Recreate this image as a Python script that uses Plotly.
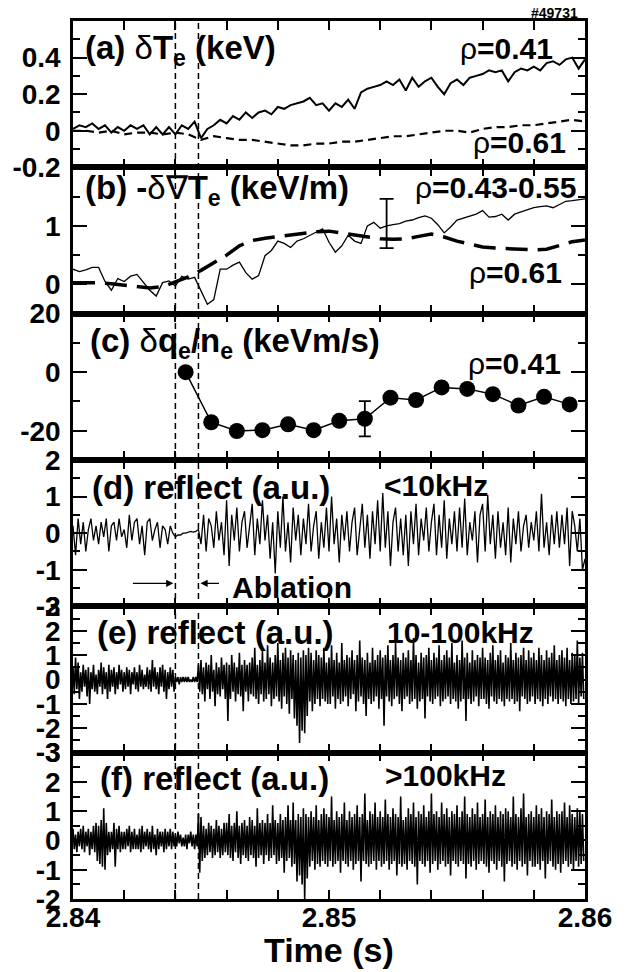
import numpy as np
import plotly.graph_objects as go
from plotly.subplots import make_subplots

# ---------------- data ----------------
T_START = 2.840
ABLATION = [2.8440, 2.8449]

# (a) delta Te (keV), rho=0.41, sampled every 0.25 ms
DT_A = 0.00025
te_041 = [0.01, 0.03, 0.02, 0.04, 0.01, 0.03, -0.01, 0.02, 0.00, 0.03,
          0.01, 0.03, -0.02, 0.02, -0.02, 0.02, -0.02, 0.03, 0.01, 0.05,
          -0.04, 0.01, 0.03, 0.06, 0.04, 0.08, 0.06, 0.10, 0.07, 0.10,
          0.11, 0.09, 0.13, 0.12, 0.14, 0.15, 0.16, 0.18, 0.14, 0.15,
          0.11, 0.15, 0.13, 0.17, 0.12, 0.21, 0.23, 0.24, 0.25, 0.27,
          0.25, 0.28, 0.22, 0.29, 0.24, 0.27, 0.29, 0.24, 0.20, 0.26,
          0.28, 0.25, 0.29, 0.30, 0.31, 0.33, 0.32, 0.33, 0.27, 0.32,
          0.34, 0.33, 0.35, 0.33, 0.37, 0.38, 0.36, 0.39, 0.40, 0.34,
          0.39]
# (a) rho=0.61, every 0.5 ms
DT_A2 = 0.0005
te_061 = [0.00, 0.00, -0.01, 0.00, -0.02, -0.01, -0.01, -0.02, -0.01, -0.02,
          -0.05, -0.03, -0.04, -0.05, -0.05, -0.06, -0.07, -0.08, -0.08, -0.07,
          -0.07, -0.06, -0.06, -0.05, -0.04, -0.03, -0.03, -0.02, -0.01, 0.00,
          0.00, -0.01, 0.01, 0.02, 0.02, 0.03, 0.03, 0.04, 0.05, 0.06,
          0.05]

# (b) -delta grad Te (keV/m)
grad_043_055 = [0.26, 0.22, 0.25, 0.29, 0.29, 0.05, -0.10, 0.10, 0.05, 0.14,
                0.17, 0.03, -0.10, -0.20, 0.03, 0.06, -0.03, 0.14, 0.09, 0.12,
                -0.10, -0.34, -0.26, 0.26, 0.26, 0.33, 0.38, 0.20, 0.09, 0.15,
                0.49, 0.58, 0.74, 0.70, 0.63, 0.74, 0.78, 0.84, 0.90, 0.95,
                0.72, 0.55, 0.66, 0.84, 0.74, 0.70, 1.00, 1.06, 0.96, 1.00,
                1.02, 1.04, 1.08, 1.10, 1.14, 1.17, 1.13, 1.02, 0.88, 0.98,
                1.10, 1.13, 1.17, 1.20, 1.26, 1.15, 1.16, 1.20, 1.10, 1.20,
                1.24, 1.28, 1.31, 1.33, 1.34, 1.31, 1.36, 1.42, 1.43, 1.45,
                1.46]
grad_061 = [0.03, 0.03, 0.03, 0.01, -0.01, -0.04, -0.06, -0.04, 0.04, 0.13,
            0.24, 0.37, 0.50, 0.66, 0.75, 0.79, 0.82, 0.84, 0.87, 0.90,
            0.91, 0.88, 0.84, 0.81, 0.78, 0.77, 0.78, 0.82, 0.86, 0.81,
            0.74, 0.69, 0.64, 0.62, 0.61, 0.60, 0.59, 0.60, 0.66, 0.73,
            0.76]
grad_err_t = [2.85225]
grad_err_y = [1.04]
grad_err = [0.42]

# (c) delta qe / ne (keV m/s), rho=0.41
qe_t = [2.8444, 2.8454, 2.8464, 2.8474, 2.8484, 2.8494, 2.8504, 2.8514,
        2.8524, 2.8534, 2.8544, 2.8554, 2.8564, 2.8574, 2.8584, 2.8594]
qe = [0.0, -17.1, -20.1, -19.8, -17.8, -19.8, -16.6, -15.9,
      -8.7, -9.5, -5.2, -5.7, -7.5, -11.4, -8.4, -11.0]
qe_err_t = [2.8514]
qe_err_y = [-15.9]
qe_err = [6.0]

# (d) reflectometer < 10 kHz, every 0.1 ms
DT_D = 0.0001
refl_low = [0.2, -0.6, 0.4, -0.3, 0.3, -0.5, 0.1, 0.4, -0.2, 0.2,
            -0.3, 0.3, -0.1, 0.4, -0.5, 0.2, 0.3, -0.2, 0.4, -0.1,
            0.1, -0.4, 0.5, -0.2, 0.3, 0.4, -0.3, 0.2, -0.6, 0.3,
            0.4, -0.2, 0.1, 0.3, -0.4, 0.2, 0.1, -0.3, 0.2, 0.0,
            -0.1, -0.05, -0.05, 0.0, 0.0, 0.02, 0.05, 0.03, 0.05, 0.1,
            -0.3, 0.5, -0.5, 0.4, 0.2, -0.4, 0.6, -0.2, 0.3, -0.6,
            0.9, -0.9, 0.5, -0.2, 0.7, -0.5, 0.3, 0.6, -0.4, 0.2,
            0.8, -0.6, 0.4, -0.3, 0.9, -0.2, 0.5, -0.7, 0.3, -1.1,
            0.6, -0.4, 1.0, -0.5, 0.3, -0.8, 0.7, -0.2, 0.5, -0.6,
            0.4, -0.3, 0.8, -0.5, 0.2, 0.6, -0.7, 0.3, -0.4, 0.7,
            -0.5, 1.0, -0.3, 0.4, -0.8, 0.5, -0.2, 0.6, -0.5, 0.3,
            0.7, -0.6, 0.2, 0.8, -0.4, 0.5, -0.7, 0.6, -0.3, 0.9,
            -0.5, 1.1, -0.4, 0.6, -0.9, 0.3, 0.7, -0.5, 0.4, -0.6,
            0.5, -0.9, 0.6, -0.3, 0.8, -0.6, 0.4, -0.2, 0.7, -0.5,
            0.3, 0.8, -0.6, 0.5, -0.4, 0.9, -0.7, 0.4, -0.3, 0.6,
            -0.5, 0.7, -0.4, 0.95, -0.6, 0.3, -0.2, 0.6, -0.8, 0.5,
            0.8, -0.5, 1.05, -0.3, 0.5, -0.7, 0.6, -0.4, 0.3, -0.6,
            0.7, -0.8, 0.4, -0.3, 0.6, -0.5, 0.2, 0.5, -0.4, 0.3,
            -0.2, 0.6, -0.5, 1.08, -0.4, 0.3, -0.6, 0.5, -0.3, 0.6,
            -0.4, 0.5, -0.3, 0.7, -0.9, 0.6, 0.2, -0.5, 0.4, -1.0,
            -0.7]

# (e) reflectometer 10-100 kHz, every 0.05 ms
DT_E = 0.00005
refl_mid = [
    0.5, -0.6, 0.9, -0.4, 0.7, -0.8, 0.3, -0.5, 0.6, -0.3, 0.4, -0.7, 0.5, -1.0, 0.3, -0.4, 0.6, -0.5, 0.2, -0.6,
    0.4, -0.3, 0.7, -0.6, 0.5, -0.4, 0.3, -0.8, 0.6, -0.5, 0.4, -0.3, 0.5, -0.6, 0.3, -0.4, 0.6, -0.2, 0.4, -0.5,
    0.3, -0.4, 0.5, -0.3, 0.4, -0.6, 0.3, -0.2, 0.5, -0.4, 0.3, -0.5, 0.6, -0.3, 0.4, -0.4, 0.2, -0.3, 0.5, -0.4,
    0.4, -0.5, 0.8, -0.3, 0.5, -0.4, 0.3, -0.6, 0.5, -0.3, 0.6, -0.5, 0.4, -0.8, 0.3, -0.4, 0.5, -0.3, 0.4, -0.5,
    0.1, -0.1, 0.1, -0.2, 0.1, -0.1, 0.1, -0.1, 0.1, -0.1, 0.1, -0.1, 0.0, -0.1, 0.1, -0.1, 0.1, -0.1, 0.6, -0.5,
    0.8, -0.6, 0.5, -0.9, 0.7, -0.4, 0.6, -0.8, 1.0, -0.5, 0.4, -1.1, 0.7, -0.6, 0.5, -0.7, 0.9, -0.4, 0.6, -0.8,
    0.7, -1.7, 0.6, -0.8, 1.0, -0.5, 0.7, -0.9, 0.5, -0.6, 1.1, -0.7, 0.6, -1.3, 0.8, -0.5, 0.6, -0.9, 0.7, -0.6,
    0.9, -0.7, 1.3, -0.8, 0.6, -1.0, 0.8, -0.6, 1.2, -0.9, 0.7, -0.8, 1.4, -0.6, 0.9, -1.1, 0.7, -0.8, 1.0, -0.7,
    1.5, -0.9, 0.8, -1.2, 1.1, -0.7, 1.3, -1.0, 0.9, -1.4, 1.2, -0.8, 1.0, -1.6, 0.8, -1.9, 1.1, -2.6, 0.9, -2.1,
    1.2, -2.2, 1.0, -1.5, 1.3, -0.9, 1.1, -1.3, 0.8, -1.0, 1.2, -0.8, 1.0, -1.1, 0.9, -0.8, 1.3, -0.9, 0.7, -1.0,
    0.9, -1.0, 1.4, -0.7, 0.8, -1.2, 1.1, -0.8, 0.7, -1.0, 1.5, -0.9, 0.8, -0.7, 1.0, -1.1, 0.9, -0.8, 1.2, -0.6,
    0.8, -1.3, 1.0, -0.9, 1.6, -0.7, 0.9, -1.0, 0.8, -1.5, 1.1, -0.8, 0.7, -1.0, 1.3, -0.9, 0.8, -0.7, 1.0, -1.2,
    1.2, -0.8, 0.9, -1.9, 1.0, -0.7, 1.4, -0.9, 0.8, -1.1, 1.0, -0.8, 1.5, -0.7, 0.9, -1.0, 0.8, -1.3, 1.1, -0.8,
    0.9, -0.7, 1.2, -1.0, 0.8, -0.9, 1.7, -0.8, 1.0, -1.2, 0.7, -0.9, 1.1, -0.8, 0.9, -1.6, 1.0, -0.7, 1.3, -0.9,
    0.8, -1.0, 1.1, -0.8, 0.9, -0.7, 1.4, -1.1, 0.8, -0.9, 1.0, -0.8, 1.2, -0.7, 0.9, -1.0, 1.5, -0.8, 0.7, -0.9,
    1.0, -1.2, 0.8, -0.9, 1.6, -0.8, 0.9, -1.7, 1.1, -0.8, 0.7, -1.0, 1.2, -0.9, 0.8, -0.7, 1.0, -1.1, 0.9, -0.8,
    1.3, -0.8, 0.9, -1.0, 0.8, -1.2, 1.1, -0.7, 1.4, -0.9, 0.8, -1.0, 1.0, -0.8, 1.2, -0.9, 0.7, -1.1, 1.0, -0.8,
    0.9, -0.9, 1.5, -0.8, 0.8, -1.0, 1.1, -0.9, 0.9, -1.3, 1.0, -0.7, 1.3, -0.8, 0.8, -1.0, 1.2, -0.9, 0.9, -0.7,
    1.1, -1.0, 0.8, -0.8, 1.3, -0.9, 1.0, -1.1, 0.8, -0.8, 1.2, -1.0, 0.9, -0.7, 1.1, -0.9, 1.4, -0.8, 0.8, -1.0,
    1.0, -0.8, 1.2, -0.9, 0.9, -1.1, 1.3, -0.8, 0.8, -1.0, 1.1, -0.9, 1.0, -0.8, 1.6, -1.0, 0.9, -0.7, 1.1, -0.8]

# (f) reflectometer > 100 kHz, every 0.05 ms
refl_high = [
    0.4, -0.3, 0.2, -0.4, 0.3, -0.2, 0.4, -0.3, 0.5, -0.4, 0.3, -0.2, 0.4, -0.5, 0.3, -0.3, 0.5, -0.4, 0.6, -0.7,
    0.5, -0.8, 0.7, -0.9, 1.1, -1.0, 0.6, -0.5, 0.3, -0.4, 0.3, -0.3, 0.6, -0.9, 0.4, -0.3, 0.5, -0.4, 0.3, -0.3,
    0.3, -0.3, 0.4, -0.2, 0.5, -0.4, 0.3, -0.3, 0.4, -0.3, 0.2, -0.3, 0.4, -0.4, 0.5, -0.3, 0.3, -0.2, 0.4, -0.3,
    0.3, -0.4, 0.5, -0.3, 0.2, -0.5, 0.4, -0.3, 0.3, -0.2, 0.3, -0.4, 0.4, -0.3, 0.3, -0.2, 0.4, -0.3, 0.3, -0.2,
    0.2, -0.2, 0.3, -0.1, 0.2, -0.2, 0.1, -0.2, 0.2, -0.3, 0.2, -0.1, 0.3, -0.2, 0.2, -0.3, 0.2, -0.2, 0.9, -1.1,
    0.8, -0.7, 0.5, -0.6, 0.4, -0.5, 0.6, -0.4, 0.5, -0.6, 0.4, -0.5, 0.7, -0.4, 0.5, -0.6, 0.4, -0.5, 0.6, -0.4,
    0.6, -0.5, 0.9, -0.6, 0.5, -0.7, 0.6, -0.4, 1.0, -0.6, 0.5, -0.8, 0.6, -0.5, 0.7, -0.6, 0.5, -0.7, 0.8, -0.5,
    0.7, -0.6, 0.5, -0.9, 1.1, -0.6, 0.6, -0.5, 0.7, -0.8, 0.6, -0.5, 0.9, -0.7, 0.6, -0.6, 1.2, -0.5, 0.7, -0.8,
    0.6, -0.7, 0.9, -0.6, 0.7, -1.1, 0.8, -0.7, 1.2, -0.6, 0.7, -0.9, 1.3, -0.8, 0.7, -1.4, 0.9, -1.2, 0.8, -1.5,
    1.1, -2.0, 0.9, -1.3, 0.8, -0.9, 1.0, -0.7, 0.8, -1.0, 1.2, -0.8, 0.7, -0.9, 0.9, -0.7, 1.1, -0.8, 0.9, -0.9,
    0.8, -0.7, 1.5, -0.9, 0.7, -0.8, 1.0, -0.7, 0.8, -1.1, 0.9, -0.7, 1.3, -0.8, 0.7, -0.9, 1.0, -0.7, 0.8, -1.0,
    0.9, -0.8, 1.2, -0.7, 0.8, -1.4, 0.9, -0.7, 1.6, -0.8, 0.7, -0.9, 1.0, -0.8, 0.9, -0.7, 1.3, -1.0, 0.8, -0.7,
    1.0, -0.9, 0.8, -0.8, 1.4, -0.7, 0.9, -1.0, 0.8, -0.8, 1.1, -0.7, 0.9, -1.2, 0.8, -0.8, 1.5, -0.9, 0.7, -0.8,
    0.8, -1.0, 1.1, -0.7, 0.9, -0.8, 1.3, -0.9, 0.8, -1.5, 1.0, -0.7, 0.9, -0.8, 1.2, -0.9, 0.8, -0.7, 1.0, -1.1,
    1.6, -0.8, 0.9, -0.7, 1.0, -1.0, 0.8, -0.8, 1.3, -0.7, 0.9, -0.9, 1.1, -0.8, 0.8, -1.2, 1.0, -0.7, 0.9, -0.8,
    1.2, -0.9, 0.8, -0.7, 1.0, -0.8, 1.5, -1.3, 0.9, -0.8, 0.8, -0.9, 1.1, -0.7, 0.9, -1.0, 1.3, -0.8, 0.8, -0.7,
    0.9, -0.8, 1.4, -0.9, 0.8, -1.1, 1.0, -0.7, 0.9, -0.8, 1.2, -1.0, 0.8, -0.7, 1.0, -0.9, 0.9, -1.4, 1.1, -0.8,
    1.0, -0.7, 0.8, -0.9, 1.5, -0.8, 0.9, -1.0, 0.8, -0.7, 1.1, -0.9, 1.6, -0.8, 0.8, -1.2, 0.9, -0.7, 1.0, -0.9,
    0.8, -0.9, 1.2, -0.8, 0.9, -1.0, 1.1, -0.7, 0.8, -1.3, 1.0, -0.8, 0.9, -0.7, 1.4, -0.9, 0.8, -1.0, 1.0, -0.8,
    0.9, -1.1, 1.0, -0.8, 1.3, -0.7, 0.8, -0.9, 1.2, -0.8, 0.9, -1.0, 0.8, -0.7, 1.1, -0.9, 1.0, -0.8, 0.9, -0.7]

X_MAJOR = [2.84, 2.85, 2.86]
X_MAJOR_TEXT = ["2.84", "2.85", "2.86"]
X_MINOR = [2.842, 2.844, 2.846, 2.848, 2.852, 2.854, 2.856, 2.858]


def tbase(n, dt):
    return [T_START + i * dt for i in range(n)]


# ---------------- figure ----------------
FONT = "Liberation Sans, Arial, sans-serif"
# page-pixel frame of the plotting area (the html body adds an 8 px offset)
OFF = 8
L, R, T, B = 73, 585, 21, 899
W, H = 630 - OFF, 972 - OFF

fig = make_subplots(rows=6, cols=1, shared_xaxes=True, vertical_spacing=0)

fig.add_trace(go.Scatter(x=tbase(len(te_041), DT_A), y=te_041, mode="lines",
                         line=dict(color="black", width=2)), row=1, col=1)
fig.add_trace(go.Scatter(x=tbase(len(te_061), DT_A2), y=te_061, mode="lines",
                         line=dict(color="black", width=2.2, dash="8px,5px")), row=1, col=1)

fig.add_trace(go.Scatter(x=tbase(len(grad_043_055), DT_A), y=grad_043_055, mode="lines",
                         line=dict(color="black", width=1.3)), row=2, col=1)
fig.add_trace(go.Scatter(x=tbase(len(grad_061), DT_A2), y=grad_061, mode="lines",
                         line=dict(color="black", width=3.5, dash="22px,10px")), row=2, col=1)
fig.add_trace(go.Scatter(x=grad_err_t, y=grad_err_y, mode="markers",
                         marker=dict(size=1, color="rgba(0,0,0,0)"),
                         error_y=dict(type="data", array=grad_err, color="black",
                                      thickness=1.8, width=7)), row=2, col=1)

fig.add_trace(go.Scatter(x=qe_t, y=qe, mode="lines+markers",
                         line=dict(color="black", width=1.5),
                         marker=dict(size=16, color="black")), row=3, col=1)
fig.add_trace(go.Scatter(x=qe_err_t, y=qe_err_y, mode="markers",
                         marker=dict(size=1, color="rgba(0,0,0,0)"),
                         error_y=dict(type="data", array=qe_err, color="black",
                                      thickness=1.8, width=6)), row=3, col=1)

fig.add_trace(go.Scatter(x=tbase(len(refl_low), DT_D), y=refl_low, mode="lines",
                         line=dict(color="black", width=1.3)), row=4, col=1)
fig.add_trace(go.Scatter(x=tbase(len(refl_mid), DT_E), y=refl_mid, mode="lines",
                         line=dict(color="black", width=1.6)), row=5, col=1)
fig.add_trace(go.Scatter(x=tbase(len(refl_high), DT_E), y=refl_high, mode="lines",
                         line=dict(color="black", width=1.6)), row=6, col=1)

tickfont = dict(family=FONT, size=28, color="black", weight="bold")

fig.update_xaxes(range=[2.84, 2.86], showline=True, linecolor="black", linewidth=2.5,
                 mirror="ticks", ticks="inside", ticklen=9, tickwidth=2, tickcolor="black",
                 tickmode="array", tickvals=X_MAJOR, ticktext=X_MAJOR_TEXT,
                 minor=dict(tickvals=X_MINOR, ticks="inside", ticklen=9, tickwidth=2,
                            tickcolor="black"),
                 showgrid=False, zeroline=False, tickfont=tickfont, automargin=False,
                 ticklabelstandoff=-8)

ycfg = [
    ([-0.2, 0.6], [-0.2, 0, 0.2, 0.4], ["-0.2", "0", "0.2", "0.4"], [-0.1, 0.1, 0.3, 0.5]),
    ([-0.5, 2.0], [0, 1], ["0", "1"], [0.5, 1.5]),
    ([-30, 20], [-20, 0, 20], ["-20", "0", "20"], [-10, 10]),
    ([-2, 2], [-2, -1, 0, 1, 2], ["-2", "-1", "0", "1", "2"], [-1.5, -0.5, 0.5, 1.5]),
    ([-3, 3], [-3, -2, -1, 0, 1, 2, 3], ["-3", "-2", "-1", "0", "1", "2", "3"],
     [-2.5, -1.5, -0.5, 0.5, 1.5, 2.5]),
    ([-2, 3], [-2, -1, 0, 1, 2, 3], ["-2", "-1", "0", "1", "2", "3"],
     [-1.5, -0.5, 0.5, 1.5, 2.5]),
]
for i, (rng, tv, tt, mv) in enumerate(ycfg):
    fig.update_yaxes(range=rng, tickmode="array", tickvals=tv, ticktext=tt,
                     showline=True, linecolor="black", linewidth=2.5, mirror="ticks",
                     ticks="inside", ticklen=14, tickwidth=2, tickcolor="black",
                     minor=dict(tickvals=mv, ticks="inside", ticklen=7, tickwidth=2,
                                tickcolor="black"),
                     showgrid=False, zeroline=False, tickfont=tickfont,
                     ticklabelstandoff=4, automargin=False,
                     row=i + 1, col=1)

# ablation marker lines across all panels
for ta in ABLATION:
    fig.add_shape(type="line", xref="x", yref="paper", x0=ta, x1=ta, y0=0, y1=1,
                  line=dict(color="black", width=1.5, dash="6px,4px"), layer="above")


def P(x, y):
    return (x - L) / (R - L), (B - y) / (B - T)


NB = "<span style='font-weight:normal'>"
annots = [
    ("(a) " + NB + "δ</span>T<sub>e</sub> (keV)", 83, 50, "left", 33),
    (NB + "ρ</span>=0.41", 555, 48, "right", 30),
    (NB + "ρ</span>=0.61", 568, 142, "right", 30),
    ("(b) -" + NB + "δ∇</span>T<sub>e</sub> (keV/m)", 83, 190, "left", 33),
    (NB + "ρ</span>=0.43-0.55", 578, 187, "right", 30),
    (NB + "ρ</span>=0.61", 564, 272, "right", 30),
    ("(c) " + NB + "δ</span>q<sub>e</sub>/n<sub>e</sub> (keVm/s)", 88, 343, "left", 33),
    (NB + "ρ</span>=0.41", 563, 363, "right", 30),
    ("(d) reflect (a.u.)", 90, 487, "left", 33),
    ("&lt;10kHz", 382, 485, "left", 30),
    ("Ablation", 230, 587, "left", 30),
    ("(e) reflect (a.u.)", 95, 632, "left", 33),
    ("10-100kHz", 385, 632, "left", 30),
    ("(f) reflect (a.u.)", 98, 778, "left", 33),
    ("&gt;100kHz", 383, 775, "left", 30),
    ("#49731", 580, 13, "right", 14),
]
for text, x, y, anc, size in annots:
    px, py = P(x, y)
    fig.add_annotation(text=text, xref="paper", yref="paper", x=px, y=py,
                       xanchor=anc, yanchor="middle", showarrow=False,
                       font=dict(family=FONT, size=size, color="black", weight="bold"))

tx, ty = P(329, 950)
fig.add_annotation(text="Time (s)", xref="paper", yref="paper", x=tx, y=ty,
                   xanchor="center", yanchor="middle", showarrow=False,
                   font=dict(family=FONT, size=34, color="black", weight="bold"))

# ablation arrows in panel (d)
fig.add_annotation(x=ABLATION[0], y=-1.37, xref="x4", yref="y4", ax=-44, ay=0,
                   showarrow=True, arrowhead=2, arrowsize=1.2, arrowwidth=1.2,
                   arrowcolor="black", text="", standoff=2)
fig.add_annotation(x=ABLATION[1], y=-1.37, xref="x4", yref="y4", ax=22, ay=0,
                   showarrow=True, arrowhead=2, arrowsize=1.2, arrowwidth=1.2,
                   arrowcolor="black", text="", standoff=2)

fig.update_layout(width=W, height=H,
                  margin=dict(l=L - OFF, r=W + OFF - R, t=T - OFF, b=H + OFF - B,
                              autoexpand=False),
                  plot_bgcolor="white", paper_bgcolor="white", showlegend=False)

fig.write_html("out.html")
